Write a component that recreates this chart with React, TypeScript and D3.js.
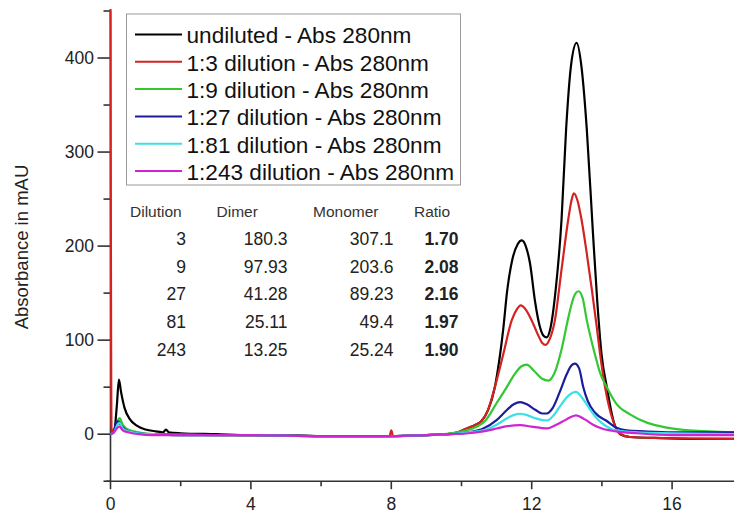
import React from 'react';
import { scaleLinear, line, curveMonotoneX } from 'd3';

// series: [time in min, absorbance in mAU]
const undiluted = [
  [0, 0], [0.1, 2], [0.18, 30], [0.24, 58], [0.3, 45], [0.4, 28], [0.55, 16], [0.75, 9], [1.0, 5],
  [1.3, 3], [1.5, 2], [1.58, 5], [1.66, 2], [2, 1], [3, 0], [4, -1], [5, -1], [6, -2], [7, -2], [8, -2],
  [9, -1], [9.6, 0], [9.9, 2], [10.15, 6], [10.4, 10], [10.57, 14], [10.75, 25], [10.95, 50],
  [11.1, 85], [11.19, 112], [11.3, 152], [11.45, 186], [11.6, 202], [11.72, 206], [11.83, 200],
  [11.95, 182], [12.1, 140], [12.22, 116], [12.33, 105], [12.43, 103], [12.53, 112], [12.69, 156],
  [12.85, 228], [12.98, 324], [13.12, 392], [13.28, 416], [13.42, 390], [13.57, 324], [13.74, 217],
  [13.87, 140], [13.99, 85], [14.14, 50], [14.33, 14], [14.52, 0], [14.8, -3], [15.5, -4],
  [16.5, -5], [17.8, -5],
];
const dil3 = [
  [0, 452], [0.03, 3], [0.15, 8], [0.24, 14], [0.35, 8], [0.5, 4], [0.8, 1], [1.2, 0], [2, 0], [3, -1],
  [4, -1], [6, -2], [7.95, -2], [8.0, 4], [8.05, -2], [9, -1], [9.6, 0], [9.9, 2], [10.15, 6],
  [10.4, 10], [10.57, 14], [10.75, 25], [10.95, 50], [11.19, 85], [11.43, 121], [11.58, 133],
  [11.69, 137], [11.82, 133], [12.0, 121], [12.2, 104], [12.3, 97], [12.4, 95], [12.5, 100],
  [12.66, 121], [12.85, 175], [13.04, 228], [13.13, 248], [13.2, 256], [13.3, 249], [13.42, 228],
  [13.57, 192], [13.72, 152], [13.85, 115], [13.95, 85], [14.09, 50], [14.32, 14], [14.5, 1],
  [14.8, -3], [15.5, -4], [17.8, -5],
];
const dil9 = [
  [0, 0], [0.1, 3], [0.2, 14], [0.26, 17], [0.35, 10], [0.5, 5], [0.8, 2], [1.2, 0], [2, -1], [4, -1],
  [6, -2], [8, -2], [9, -1], [9.7, 1], [10.15, 4], [10.67, 14], [11.0, 33], [11.29, 50], [11.5, 63],
  [11.7, 72], [11.86, 74], [12.05, 68], [12.3, 59], [12.47, 57], [12.65, 65], [12.85, 90],
  [13.05, 125], [13.2, 146], [13.33, 152], [13.45, 145], [13.57, 121], [13.8, 85], [13.95, 65],
  [14.14, 50], [14.42, 32], [14.8, 21], [15.3, 12], [15.85, 7], [16.5, 4], [17.8, 2],
];
const dil27 = [
  [0, 0], [0.1, 3], [0.18, 14], [0.25, 12], [0.35, 7], [0.5, 3], [0.8, 1], [1.2, 0], [2, -1], [4, -1],
  [6, -2], [8, -2], [9, -1], [9.7, 0], [10.2, 2], [10.62, 6], [11.0, 15], [11.3, 26], [11.5, 32],
  [11.67, 34], [11.85, 32], [12.1, 26], [12.3, 22], [12.43, 22], [12.6, 28], [12.8, 45], [13.0, 64],
  [13.13, 73], [13.23, 75], [13.35, 70], [13.47, 50], [13.6, 35], [13.8, 23], [14.14, 14], [14.4, 7],
  [14.7, 4], [15.2, 3], [16, 2], [17.8, 2],
];
const dil81 = [
  [0, 0], [0.1, 2], [0.2, 10], [0.26, 12], [0.35, 6], [0.5, 3], [0.8, 1], [1.2, 0], [2, -1], [4, -1],
  [6, -2], [8, -2], [9, -1], [9.7, 0], [10.2, 2], [10.62, 4], [11.0, 10], [11.3, 17], [11.5, 20.5],
  [11.67, 21.7], [11.85, 20.5], [12.1, 17], [12.3, 15], [12.43, 14.6], [12.6, 19], [12.85, 32],
  [13.05, 41], [13.26, 45], [13.45, 38], [13.65, 27], [13.85, 17], [14.1, 9], [14.4, 4], [15, 2],
  [16, 1], [17.8, 0],
];
const dil243 = [
  [0, 0], [0.1, 2], [0.2, 7], [0.26, 8], [0.35, 4], [0.5, 2], [0.8, 0], [1.2, -1], [2, -1], [4, -1],
  [6, -2], [8, -2], [9, -1], [9.7, 0], [10.2, 1], [10.62, 3], [11.0, 6], [11.3, 8.5], [11.67, 9.7],
  [12.0, 8], [12.3, 6.5], [12.45, 6.2], [12.7, 10], [13.0, 16], [13.26, 20], [13.5, 16], [13.75, 10],
  [14.0, 6], [14.4, 3], [15, 1], [16, -1], [17.8, -1],
];

const seriesData = [undiluted, dil3, dil9, dil27, dil81, dil243];
const seriesNames = [
  'undiluted - Abs 280nm',
  '1:3 dilution - Abs 280nm',
  '1:9 dilution - Abs 280nm',
  '1:27 dilution - Abs 280nm',
  '1:81 dilution - Abs 280nm',
  '1:243 dilution - Abs 280nm',
];
const seriesColors = ['#000000', '#d42222', '#33c833', '#1c1c9c', '#38e0e8', '#d024d0'];

// table
const tableHeaders = ['Dilution', 'Dimer', 'Monomer', 'Ratio'];
const tableDilution = ['3', '9', '27', '81', '243'];
const tableDimer = ['180.3', '97.93', '41.28', '25.11', '13.25'];
const tableMonomer = ['307.1', '203.6', '89.23', '49.4', '25.24'];
const tableRatio = ['1.70', '2.08', '2.16', '1.97', '1.90'];

// axes
const xMajorTicks = [0, 4, 8, 12, 16];
const xMinorTicks = [2, 6, 10, 14];
const yMajorTicks = [0, 100, 200, 300, 400];
const yMinorTicks = [-50, 50, 150, 250, 350, 450];

const font = '"Liberation Sans", Arial, sans-serif';

export default function App() {
  const width = 734;
  const height = 516;

  const xScale = scaleLinear().domain([0, 18]).range([110.5, 742.3]);
  const yScale = scaleLinear().domain([-50, 450]).range([481.2, 11]);

  const x0 = xScale(0);
  const yBottom = yScale(-50);

  const path = line()
    .x(d => xScale(d[0]))
    .y(d => yScale(d[1]))
    .curve(curveMonotoneX);

  const columns = [
    { head: 130, right: 186, values: tableDilution, bold: false },
    { head: 216.5, right: 287.5, values: tableDimer, bold: false },
    { head: 313, right: 393.5, values: tableMonomer, bold: false },
    { head: 414, right: 458.5, values: tableRatio, bold: true },
  ];

  return (
    <svg
      width={width}
      height={height}
      style={{ position: 'absolute', left: 0, top: 0, background: '#fff' }}
      fontFamily={font}>
      <defs>
        <clipPath id="plot">
          <rect x={x0 - 3} y={9} width={width - x0 + 3} height={yBottom - 9} />
        </clipPath>
      </defs>

      {/* axes */}
      <line x1={x0} x2={x0} y1={yScale(450)} y2={yBottom} stroke="#333" strokeWidth={1.6} />
      <line x1={x0 - 4} x2={width} y1={yBottom} y2={yBottom} stroke="#333" strokeWidth={1.6} />
      {yMajorTicks.map(t => (
        <g key={'ym' + t}>
          <line x1={x0 - 13} x2={x0} y1={yScale(t)} y2={yScale(t)} stroke="#333" strokeWidth={1.6} />
          <text x={x0 - 16.5} y={yScale(t)} dy="0.35em" textAnchor="end" fontSize={17.5} fill="#222">
            {t}
          </text>
        </g>
      ))}
      {yMinorTicks.map(t => (
        <line key={'yn' + t} x1={x0 - 7} x2={x0} y1={yScale(t)} y2={yScale(t)} stroke="#333" strokeWidth={1.6} />
      ))}
      {xMajorTicks.map(t => (
        <g key={'xm' + t}>
          <line x1={xScale(t)} x2={xScale(t)} y1={yBottom} y2={yBottom + 8} stroke="#333" strokeWidth={1.6} />
          <text x={xScale(t)} y={yBottom + 23} dy="0.35em" textAnchor="middle" fontSize={17.5} fill="#222">
            {t}
          </text>
        </g>
      ))}
      {xMinorTicks.map(t => (
        <line key={'xn' + t} x1={xScale(t)} x2={xScale(t)} y1={yBottom} y2={yBottom + 5} stroke="#333" strokeWidth={1.6} />
      ))}
      <text
        transform={`translate(22,247) rotate(-90)`}
        dy="0.35em"
        textAnchor="middle"
        fontSize={18.5}
        fill="#222">
        Absorbance in mAU
      </text>

      {/* curves */}
      <g clipPath="url(#plot)" fill="none" strokeWidth={2.2} strokeLinejoin="round">
        {seriesData.map((d, i) => (
          <path key={seriesNames[i]} d={path(d)} stroke={seriesColors[i]} />
        ))}
      </g>

      {/* legend */}
      <rect x={126.5} y={14} width={334} height={171} fill="#fff" stroke="#999" strokeWidth={1} />
      {seriesNames.map((name, i) => {
        const ly = 34.5 + i * 27.3;
        return (
          <g key={'lg' + name}>
            <line x1={135} x2={182} y1={ly} y2={ly} stroke={seriesColors[i]} strokeWidth={2} />
            <text x={186.5} y={ly + 1} dy="0.35em" fontSize={22.6} fill="#111">
              {name}
            </text>
          </g>
        );
      })}

      {/* table */}
      {columns.map((c, ci) => (
        <g key={'tc' + ci}>
          <text x={c.head} y={212} dy="0.35em" fontSize={15.5} fill="#333">
            {tableHeaders[ci]}
          </text>
          {c.values.map((v, ri) => (
            <text
              key={ri}
              x={c.right}
              y={238.5 + ri * 27.9}
              dy="0.35em"
              textAnchor="end"
              fontSize={17.5}
              fontWeight={c.bold ? 'bold' : 'normal'}
              fill="#222">
              {v}
            </text>
          ))}
        </g>
      ))}
    </svg>
  );
}
